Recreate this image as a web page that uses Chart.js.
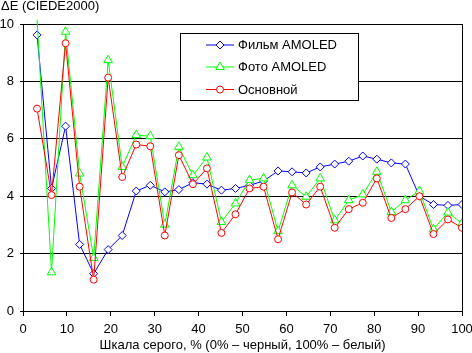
<!DOCTYPE html>
<html>
<head>
<meta charset="utf-8">
<script src="https://cdn.jsdelivr.net/npm/chart.js@4.4.0/dist/chart.umd.min.js"></script>
<style>
  body { margin: 0; background: #fff; }
  #wrap { width: 472px; height: 353px; position: relative; }
</style>
</head>
<body>
<div id="wrap"><canvas id="deltaChart"></canvas></div>
<script>
// gray level, %
const grayLevels = [3.2, 6.5, 9.7, 12.9, 16.1, 19.4, 22.6, 25.8, 29.0, 32.3, 35.5, 38.7, 41.9, 45.2, 48.4,
    51.6, 54.8, 58.1, 61.3, 64.5, 67.7, 71.0, 74.2, 77.4, 80.6, 83.9, 87.1, 90.3, 93.5, 96.8, 100];

const filmAmoled = [9.62, 4.27, 6.44, 2.32, 1.30, 2.14, 2.63, 4.18, 4.38, 4.15, 4.23, 4.47, 4.42, 4.21, 4.27,
    4.38, 4.53, 4.88, 4.85, 4.81, 5.02, 5.12, 5.22, 5.40, 5.29, 5.16, 5.12, 4.00, 3.71, 3.68, 3.71];

const photoAmoled = [10.15, 1.35, 9.73, 4.79, 1.85, 8.74, 5.02, 6.13, 6.09, 3.01, 5.72, 4.73, 5.35, 3.10, 3.75,
    4.56, 4.62, 2.78, 4.38, 3.98, 4.62, 3.16, 3.86, 4.06, 4.85, 3.45, 3.86, 4.18, 2.85, 3.43, 3.05];

const mainMode = [7.05, 4.04, 9.33, 4.33, 1.09, 8.13, 4.67, 5.80, 5.74, 2.63, 5.43, 4.42, 4.97, 2.72, 3.37,
    4.27, 4.33, 2.50, 4.13, 3.71, 4.33, 2.90, 3.55, 3.77, 4.62, 3.24, 3.55, 4.00, 2.68, 3.19, 2.90];

const seriesLabels = ['Фильм AMOLED', 'Фото AMOLED', 'Основной'];
const xTitle = 'Шкала серого, % (0% – черный, 100% – белый)';
const yTitle = 'ΔE (CIEDE2000)';

Chart.defaults.font.family = '"Liberation Sans", Arial, sans-serif';
Chart.defaults.font.size = 13;
Chart.defaults.color = '#000';

const toPoints = (values) => values.map((v, i) => ({ x: grayLevels[i], y: v }));

// green point above 10 is cut off, only the line shows
const photoRadius = photoAmoled.map(v => (v > 10 ? 0 : 5));

// legend box + right border + y title, drawn by hand
const framePlugin = {
    id: 'frame',
    afterDatasetsDraw(chart) {
        const ctx = chart.ctx;
        const area = chart.chartArea;
        ctx.save();
        ctx.strokeStyle = '#000';
        ctx.lineWidth = 1;
        ctx.beginPath();
        ctx.moveTo(Math.round(area.right) + 0.5, area.top);
        ctx.lineTo(Math.round(area.right) + 0.5, area.bottom);
        ctx.stroke();

        // legend
        ctx.fillStyle = '#fff';
        ctx.fillRect(180.5, 33.5, 178, 67);
        ctx.strokeRect(180.5, 33.5, 178, 67);
        const rows = [44.5, 66.5, 89];
        chart.data.datasets.forEach((ds, i) => {
            const y = rows[i];
            ctx.strokeStyle = ds.borderColor;
            ctx.beginPath();
            ctx.moveTo(206, y + 0.5);
            ctx.lineTo(234, y + 0.5);
            ctx.stroke();
            Chart.helpers.drawPoint(ctx, {
                pointStyle: ds.pointStyle,
                radius: Array.isArray(ds.pointRadius) ? 5 : ds.pointRadius,
                borderWidth: 1
            }, 220, y + 0.5);
            ctx.fillStyle = '#000';
            ctx.font = '13px "Liberation Sans", Arial, sans-serif';
            ctx.textBaseline = 'middle';
            ctx.textAlign = 'left';
            ctx.fillText(ds.label, 238, y + 1);
            ctx.fillStyle = '#fff';
        });
        ctx.restore();
    },
    afterDraw(chart) {
        const ctx = chart.ctx;
        ctx.save();
        ctx.fillStyle = '#000';
        ctx.font = '13px "Liberation Sans", Arial, sans-serif';
        ctx.textBaseline = 'middle';
        ctx.textAlign = 'left';
        ctx.fillText(yTitle, 1, 6);
        ctx.restore();
    }
};

const ctx = document.getElementById('deltaChart').getContext('2d');
new Chart(ctx, {
    type: 'line',
    data: {
        datasets: [{
            label: seriesLabels[0],
            data: toPoints(filmAmoled),
            borderColor: '#0000ff',
            backgroundColor: '#fff',
            pointBackgroundColor: '#fff',
            pointBorderColor: '#0000ff',
            pointStyle: 'rectRot',
            pointRadius: 4,
            borderWidth: 1,
            pointBorderWidth: 1,
            order: 2
        }, {
            label: seriesLabels[1],
            data: toPoints(photoAmoled),
            borderColor: '#00ff00',
            backgroundColor: '#fff',
            pointBackgroundColor: '#fff',
            pointBorderColor: '#00ff00',
            pointStyle: 'triangle',
            pointRadius: photoRadius,
            borderWidth: 1,
            pointBorderWidth: 1,
            clip: { top: 6, left: 0, right: 0, bottom: 0 },
            order: 1
        }, {
            label: seriesLabels[2],
            data: toPoints(mainMode),
            borderColor: '#ff0000',
            backgroundColor: '#fff',
            pointBackgroundColor: '#fff',
            pointBorderColor: '#ff0000',
            pointStyle: 'circle',
            pointRadius: 3.5,
            borderWidth: 1,
            pointBorderWidth: 1,
            order: 0
        }]
    },
    options: {
        responsive: true,
        maintainAspectRatio: false,
        animation: false,
        layout: {
            padding: { left: 0, top: 24, right: 10, bottom: 0 }
        },
        plugins: {
            legend: { display: false },
            tooltip: { enabled: false }
        },
        scales: {
            x: {
                type: 'linear',
                min: 0,
                max: 100,
                ticks: { stepSize: 10, padding: 6, maxRotation: 0 },
                grid: { drawOnChartArea: false, color: '#000', tickLength: 5 },
                border: { color: '#000' },
                title: { display: true, text: xTitle, padding: { top: 0, bottom: 0 } },
                afterFit: (s) => { s.height = 42; s.paddingLeft = 0; s.paddingRight = 0; }
            },
            y: {
                min: 0,
                max: 10,
                ticks: { stepSize: 2, padding: 6 },
                grid: { color: '#000', tickLength: 3 },
                border: { color: '#000' },
                afterFit: (s) => { s.width = 23; }
            }
        }
    },
    plugins: [framePlugin]
});
</script>
</body>
</html>
